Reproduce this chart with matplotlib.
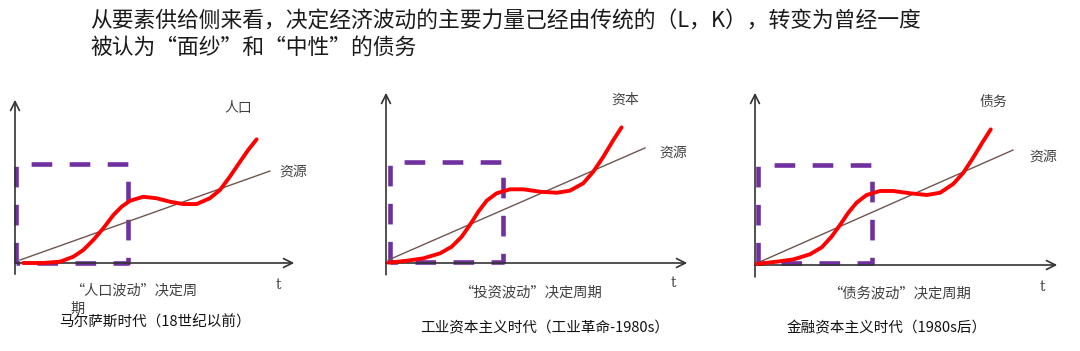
import matplotlib.pyplot as plt

plt.rcParams['font.family'] = ['Noto Sans CJK SC', 'DejaVu Sans']

W, H = 1080, 351

title_lines = ["从要素供给侧来看，决定经济波动的主要力量已经由传统的（L，K），转变为曾经一度",
               "被认为“面纱”和“中性”的债务"]

# 三个时期的名称和标签
curve_names = ["人口", "资本", "债务"]
wave_labels = ["“人口波动”决定周\n期", "“投资波动”决定周期", "“债务波动”决定周期"]
era_labels = ["马尔萨斯时代（18世纪以前）", "工业资本主义时代（工业革命-1980s）", "金融资本主义时代（1980s后）"]

# 红色曲线（从图上读取的点，t / 数值）
t1 = [0.29, 1.00, 1.60, 2.07, 2.42, 2.78, 3.13, 3.49, 3.78, 4.08, 4.55, 5.02, 5.50, 5.97,
      6.44, 6.91, 7.27, 7.62, 7.98, 8.27, 8.57]
y1 = [0.00, 0.00, 0.08, 0.38, 0.78, 1.39, 2.09, 2.89, 3.39, 3.75, 3.99, 3.90, 3.69, 3.55,
      3.55, 3.90, 4.40, 5.20, 6.10, 6.81, 7.45]
t2 = [0.08, 0.68, 1.23, 1.78, 2.16, 2.49, 2.76, 3.04, 3.31, 3.64, 4.08, 4.52, 5.07, 5.61,
      6.05, 6.49, 6.82, 7.15, 7.48, 7.75]
y2 = [0.02, 0.13, 0.27, 0.56, 0.94, 1.52, 2.20, 2.97, 3.60, 4.03, 4.26, 4.26, 4.12, 4.06,
      4.18, 4.61, 5.28, 6.14, 7.11, 7.84]
t3 = [0.06, 0.71, 1.26, 1.80, 2.19, 2.51, 2.79, 3.06, 3.33, 3.66, 4.10, 4.53, 5.08, 5.63,
      6.07, 6.50, 6.83, 7.16, 7.49, 7.73]
y3 = [0.06, 0.19, 0.32, 0.61, 1.01, 1.62, 2.29, 2.99, 3.56, 4.00, 4.23, 4.23, 4.10, 4.00,
      4.13, 4.63, 5.27, 6.15, 7.10, 7.75]

# 资源（直线）
res_t = [[0.18, 9.04], [0.07, 8.52], [0.07, 8.46]]
res_y = [[0.18, 5.54], [0.17, 6.65], [0.11, 6.57]]

# 虚线框（左, 下, 右, 上）
boxes = [[0.04, 0.0, 4.02, 5.95], [0.13, 0.06, 3.85, 5.84], [0.10, 0.10, 3.83, 5.71]]

# 面板在图中的位置：原点像素、每单位像素、面板左右边界
panels = [dict(ox=15, oy=263, sx=28.2, sy=16.6, L=0, R=360),
          dict(ox=386, oy=263, sx=30.4, sy=17.3, L=360, R=730),
          dict(ox=755, oy=265, sx=30.5, sy=17.5, L=730, R=1080)]

name_pos = [(7.91, 9.34), (7.86, 9.42), (7.80, 9.31)]
res_pos = [(9.86, 5.48), (9.44, 6.36), (9.44, 6.17)]
t_pos = [(9.33, -1.33), (9.44, -1.16), (9.41, -1.26)]
wave_pos = [(1.95, -1.22), (4.74, -1.68), (4.75, -1.60)]
era_pos = [(4.96, -3.61), (5.23, -3.76), (4.33, -3.60)]

fig = plt.figure(figsize=(W / 100, H / 100), dpi=100)
fig.patch.set_facecolor('white')

fig.text(90 / W, 1 - 22 / H, title_lines[0], fontsize=15.7, va='center', ha='left', color='#1a1a1a')
fig.text(90 / W, 1 - 48 / H, title_lines[1], fontsize=15.7, va='center', ha='left', color='#1a1a1a')

curves = [(t1, y1), (t2, y2), (t3, y3)]
axis_col = '#333333'
label_col = '#404040'

for i, p in enumerate(panels):
    ax = fig.add_axes([p['L'] / W, 0, (p['R'] - p['L']) / W, 1])
    ax.set_xlim((p['L'] - p['ox']) / p['sx'], (p['R'] - p['ox']) / p['sx'])
    ax.set_ylim((p['oy'] - H) / p['sy'], p['oy'] / p['sy'])
    ax.axis('off')

    # 坐标轴箭头
    ax.annotate('', xy=(10, 0), xytext=(-0.1, 0),
                arrowprops=dict(arrowstyle='->', color=axis_col, lw=1.2, mutation_scale=16))
    ax.annotate('', xy=(0, 10), xytext=(0, -0.84),
                arrowprops=dict(arrowstyle='->', color=axis_col, lw=1.2, mutation_scale=16))

    # 资源直线
    ax.plot(res_t[i], res_y[i], color='#6e5550', lw=1.0, zorder=3)

    # 虚线框
    l, b, r, tp = boxes[i]
    ax.plot([l, l, r, r, l], [b, tp, tp, b, b],
            color='#7030a0', lw=3.3, dashes=(4.5, 3.8), solid_capstyle='butt', zorder=2)

    # 红色曲线
    t, y = curves[i]
    ax.plot(t, y, color='#ff0000', lw=2.8, solid_joinstyle='round', solid_capstyle='round', zorder=4)

    ax.text(*name_pos[i], curve_names[i], fontsize=10, color=label_col, ha='center', va='center')
    ax.text(*res_pos[i], "资源", fontsize=10, color=label_col, ha='center', va='center')
    ax.text(*t_pos[i], "t", fontsize=10, color=label_col, ha='center', va='center', family='DejaVu Serif')
    if i == 0:
        ax.text(*wave_pos[i], wave_labels[i], fontsize=10.2, color=label_col, ha='left', va='top',
                linespacing=1.45)
    else:
        ax.text(*wave_pos[i], wave_labels[i], fontsize=10.3, color=label_col, ha='center', va='center')
    ax.text(*era_pos[i], era_labels[i], fontsize=10.5, color='#111111', ha='center', va='center')

fig.savefig('out.png', dpi=100, facecolor='white')
